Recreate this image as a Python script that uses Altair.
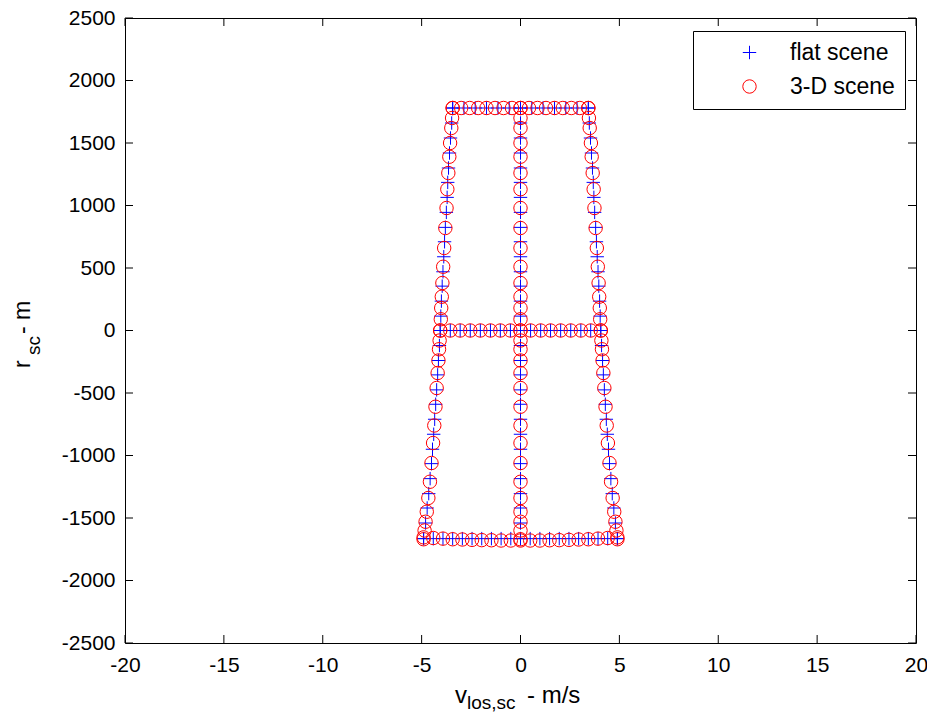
import altair as alt
import pandas as pd

# ---------------- data ----------------
SERIES = ["flat scene", "3-D scene"]

# 3-D scene (red circles): range samples shared by the three vertical lines
VLINE_R_3D = [1780, 1700, 1620, 1500, 1390, 1260, 1130, 980, 820, 660, 510, 380, 270, 180, 90, 0,
              -80, -150, -240, -340, -460, -610, -760, -900, -1060, -1210, -1340, -1450, -1530, -1600, -1670]
LEFT_V_3D = [-3.43, -3.46, -3.50, -3.56, -3.60, -3.65, -3.70, -3.74, -3.80, -3.86, -3.91, -3.95, -3.98, -4.01, -4.03, -4.06,
             -4.09, -4.12, -4.15, -4.19, -4.24, -4.30, -4.36, -4.42, -4.50, -4.58, -4.66, -4.74, -4.80, -4.85, -4.90]
CENTER_V_3D = [0, 0, 0, 0, 0, 0, 0, 0, 0, 0, 0, 0, 0, 0, 0, 0,
               0, 0, 0, 0, 0, 0, 0, 0, 0, 0, 0, 0, 0, 0, 0]
RIGHT_V_3D = [3.43, 3.46, 3.50, 3.56, 3.60, 3.65, 3.70, 3.74, 3.80, 3.86, 3.91, 3.95, 3.98, 4.01, 4.03, 4.06,
              4.09, 4.12, 4.15, 4.19, 4.24, 4.30, 4.36, 4.42, 4.50, 4.58, 4.66, 4.74, 4.80, 4.85, 4.90]
TOP_V_3D = [-3.43, -3.0, -2.57, -2.14, -1.72, -1.29, -0.86, -0.43, 0, 0.43, 0.86, 1.29, 1.72, 2.14, 2.57, 3.0, 3.43]
TOP_R_3D = 1780
MID_V_3D = [-4.06, -3.55, -3.05, -2.54, -2.03, -1.52, -1.02, -0.51, 0, 0.51, 1.02, 1.52, 2.03, 2.54, 3.05, 3.55, 4.06]
MID_R_3D = 0
BOTTOM_V_3D = [-4.90, -4.41, -3.92, -3.43, -2.94, -2.45, -1.96, -1.47, -0.98, -0.49, 0,
               0.49, 0.98, 1.47, 1.96, 2.45, 2.94, 3.43, 3.92, 4.41, 4.90]
BOTTOM_R_3D = [-1655, -1660, -1665, -1670, -1672, -1675, -1677, -1678, -1680, -1680, -1680,
               -1680, -1680, -1678, -1677, -1675, -1672, -1670, -1665, -1660, -1655]

# flat scene (blue pluses)
VLINE_R_FLAT = [1780, 1660, 1540, 1420, 1300, 1185, 1065, 945, 825, 710, 590, 470, 355, 235, 115, 0,
                -120, -240, -355, -475, -590, -710, -830, -950, -1065, -1185, -1305, -1420, -1540, -1665]
LEFT_V_FLAT = [-3.43, -3.48, -3.54, -3.59, -3.64, -3.68, -3.71, -3.75, -3.80, -3.84, -3.88, -3.92, -3.96, -4.00, -4.03, -4.06,
               -4.10, -4.15, -4.19, -4.24, -4.29, -4.34, -4.39, -4.45, -4.50, -4.57, -4.64, -4.72, -4.80, -4.90]
CENTER_V_FLAT = [0, 0, 0, 0, 0, 0, 0, 0, 0, 0, 0, 0, 0, 0, 0, 0,
                 0, 0, 0, 0, 0, 0, 0, 0, 0, 0, 0, 0, 0, 0]
RIGHT_V_FLAT = [3.43, 3.48, 3.54, 3.59, 3.64, 3.68, 3.71, 3.75, 3.80, 3.84, 3.88, 3.92, 3.96, 4.00, 4.03, 4.06,
                4.10, 4.15, 4.19, 4.24, 4.29, 4.34, 4.39, 4.45, 4.50, 4.57, 4.64, 4.72, 4.80, 4.90]
TOP_V_FLAT = [-3.43, -2.86, -2.29, -1.72, -1.14, -0.57, 0, 0.57, 1.14, 1.72, 2.29, 2.86, 3.43]
TOP_R_FLAT = 1780
MID_V_FLAT = [-4.06, -3.55, -3.05, -2.54, -2.03, -1.52, -1.02, -0.51, 0, 0.51, 1.02, 1.52, 2.03, 2.54, 3.05, 3.55, 4.06]
MID_R_FLAT = 0
BOTTOM_V_FLAT = [-4.90, -4.41, -3.92, -3.43, -2.94, -2.45, -1.96, -1.47, -0.98, -0.49, 0,
                 0.49, 0.98, 1.47, 1.96, 2.45, 2.94, 3.43, 3.92, 4.41, 4.90]
BOTTOM_R_FLAT = -1665

X_TICKS = [-20, -15, -10, -5, 0, 5, 10, 15, 20]
Y_TICKS = [-2500, -2000, -1500, -1000, -500, 0, 500, 1000, 1500, 2000, 2500]

# ---------------- build table ----------------
rows = []
def add(series, vs, rs):
    for v, r in zip(vs, rs):
        rows.append({"series": series, "v": v, "r": r})

# flat first (drawn underneath), then 3-D
add("flat scene", LEFT_V_FLAT, VLINE_R_FLAT)
add("flat scene", CENTER_V_FLAT, VLINE_R_FLAT)
add("flat scene", RIGHT_V_FLAT, VLINE_R_FLAT)
add("flat scene", TOP_V_FLAT, [TOP_R_FLAT] * len(TOP_V_FLAT))
add("flat scene", MID_V_FLAT, [MID_R_FLAT] * len(MID_V_FLAT))
add("flat scene", BOTTOM_V_FLAT, [BOTTOM_R_FLAT] * len(BOTTOM_V_FLAT))
add("3-D scene", LEFT_V_3D, VLINE_R_3D)
add("3-D scene", CENTER_V_3D, VLINE_R_3D)
add("3-D scene", RIGHT_V_3D, VLINE_R_3D)
add("3-D scene", TOP_V_3D, [TOP_R_3D] * len(TOP_V_3D))
add("3-D scene", MID_V_3D, [MID_R_3D] * len(MID_V_3D))
add("3-D scene", BOTTOM_V_3D, BOTTOM_R_3D)
df = pd.DataFrame(rows)

xt = pd.DataFrame({"v": X_TICKS})
yt = pd.DataFrame({"r": Y_TICKS})

W, H = 791, 625
FONT = "Liberation Sans"
PLUS = "M-1,0L1,0M0,-1L0,1"

XS = alt.Scale(domain=[-20, 20], nice=False, zero=False)
YS = alt.Scale(domain=[-2500, 2500], nice=False, zero=False)
XAX = alt.Axis(values=X_TICKS, ticks=False, domain=False, grid=False, title=None,
               labelFont=FONT, labelFontSize=21, labelColor="black", labelPadding=11,
               labelFlush=False, labelOverlap=False, labelExpr="'' + datum.value")
YAX = alt.Axis(values=Y_TICKS, ticks=False, domain=False, grid=False, title=None,
               labelFont=FONT, labelFontSize=21, labelColor="black", labelPadding=10,
               labelFlush=False, labelOverlap=False, labelExpr="'' + datum.value")

LEG = alt.Legend(title=None, orient="none", legendX=568, legendY=13,
                 strokeColor="black", fillColor="white", padding=10,
                 labelFont=FONT, labelFontSize=23, labelColor="black",
                 symbolSize=180, symbolStrokeWidth=1, symbolOffset=35, labelOffset=29,
                 rowPadding=10, labelExpr="datum.label + '\u00a0\u00a0\u00a0\u00a0'")

points = alt.Chart(df).mark_point(filled=False, size=180, strokeWidth=1, opacity=1).encode(
    x=alt.X("v:Q", scale=XS, axis=XAX),
    y=alt.Y("r:Q", scale=YS, axis=YAX),
    color=alt.Color("series:N", scale=alt.Scale(domain=SERIES, range=["#0000ff", "#ff0000"]), legend=LEG),
    shape=alt.Shape("series:N", scale=alt.Scale(domain=SERIES, range=[PLUS, "circle"]), legend=LEG),
)

tb = alt.Chart(xt).mark_rule(color="black", strokeWidth=1).encode(
    x=alt.X("v:Q", scale=XS, axis=XAX), y=alt.value(H), y2=alt.value(H - 8))
tt = alt.Chart(xt).mark_rule(color="black", strokeWidth=1).encode(
    x=alt.X("v:Q", scale=XS, axis=XAX), y=alt.value(0), y2=alt.value(8))
tl = alt.Chart(yt).mark_rule(color="black", strokeWidth=1).encode(
    y=alt.Y("r:Q", scale=YS, axis=YAX), x=alt.value(0), x2=alt.value(8))
tr = alt.Chart(yt).mark_rule(color="black", strokeWidth=1).encode(
    y=alt.Y("r:Q", scale=YS, axis=YAX), x=alt.value(W), x2=alt.value(W - 8))

one = pd.DataFrame({"k": [0]})
def txt(s, x, y, size, angle=0):
    return alt.Chart(one).mark_text(text=s, font=FONT, fontSize=size, color="black",
                                    align="left", baseline="alphabetic", angle=angle).encode(
        x=alt.value(x), y=alt.value(y))

xtitle = txt("v", 330, 685, 24) + txt("los,sc", 342, 691, 19) + txt("- m/s", 402, 685, 24)
ytitle = txt("r", -95, 350, 23, 270) + txt("sc", -85, 337, 19, 270) + txt("- m", -95, 316, 23, 270)

chart = alt.layer(tb, tt, tl, tr, points, xtitle, ytitle).properties(
    width=W, height=H,
    autosize=alt.AutoSizeParams(type="none"),
    padding={"left": 117, "top": 10, "right": 11, "bottom": 70},
    background="white",
).configure_view(stroke="black", strokeWidth=1)

chart.save("out.html", embed_options={"renderer": "svg", "actions": False})
